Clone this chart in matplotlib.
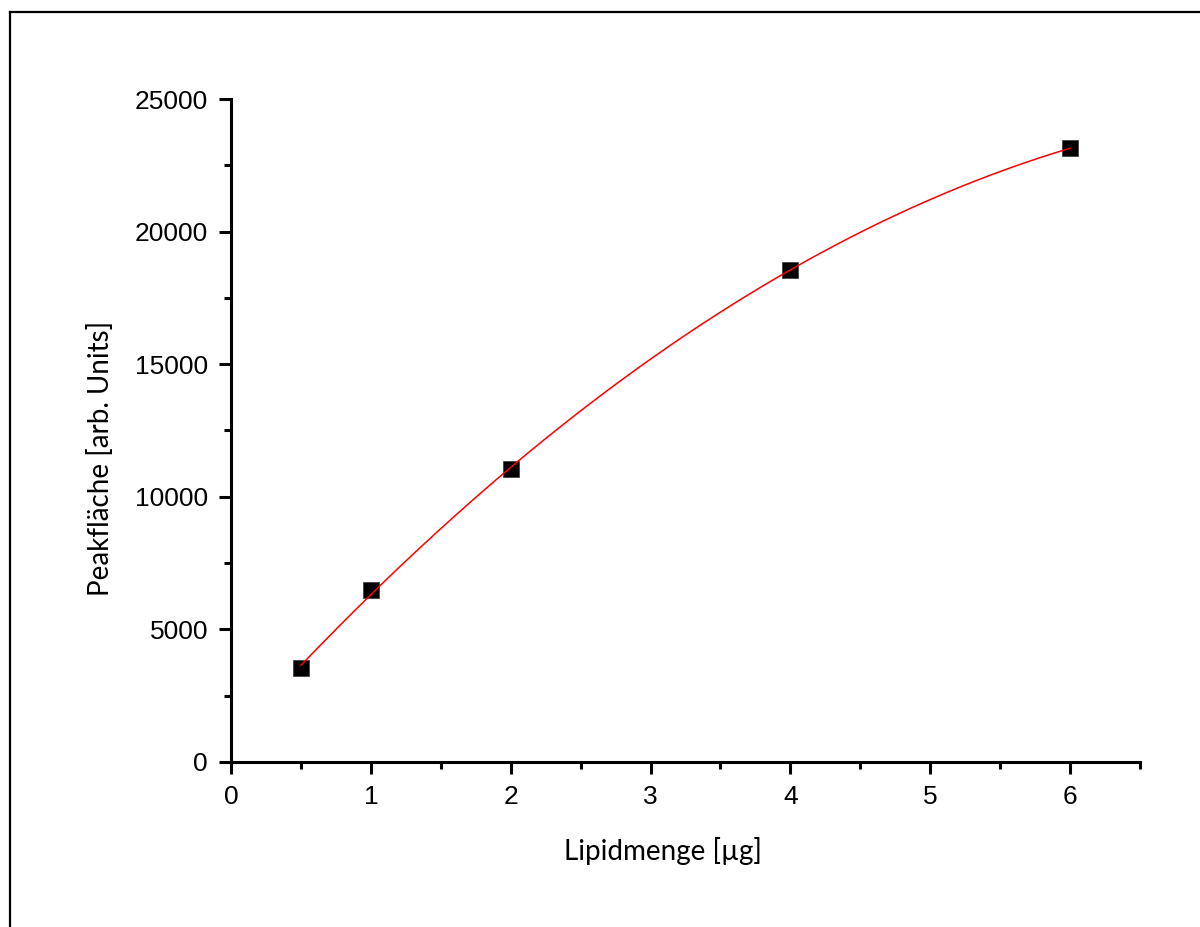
"""Kalibrierkurve: Peakfläche gegen Lipidmenge."""

import matplotlib

matplotlib.use("Agg")
import matplotlib.pyplot as plt
import numpy as np
from matplotlib.lines import Line2D
from matplotlib.ticker import MultipleLocator

lipid_ug = [0.5, 1.0, 2.0, 4.0, 6.0]
peak_area = [3540, 6480, 11050, 18550, 23150]

x_label = "Lipidmenge [µg]"
y_label = "Peakfläche [arb. Units]"


def main() -> None:
    fig = plt.figure(figsize=(12, 9.27), dpi=100)
    ax = fig.add_axes([0.1925, 0.178, 0.7575, 0.7152])

    # quadratic fit through the measured points
    coeffs = np.polyfit(lipid_ug, peak_area, 2)
    x_fit = np.linspace(min(lipid_ug), max(lipid_ug), 200)
    ax.plot(x_fit, np.polyval(coeffs, x_fit), color="red", lw=1.1, zorder=3)

    ax.plot(lipid_ug, peak_area, "s", color="black", markersize=11.5,
            markeredgecolor="#444444", markeredgewidth=0.6, zorder=2)

    ax.set_xlim(0, 6.5)
    ax.set_ylim(0, 25000)
    ax.xaxis.set_major_locator(MultipleLocator(1))
    ax.xaxis.set_minor_locator(MultipleLocator(0.5))
    ax.yaxis.set_major_locator(MultipleLocator(5000))
    ax.yaxis.set_minor_locator(MultipleLocator(2500))

    for side in ("top", "right"):
        ax.spines[side].set_visible(False)
    for side in ("left", "bottom"):
        ax.spines[side].set_linewidth(2.2)

    ax.tick_params(which="major", direction="out", length=8.5, width=2.2,
                   labelsize=19, pad=8)
    ax.tick_params(which="minor", direction="out", length=5, width=2.2)
    for lab in ax.get_xticklabels() + ax.get_yticklabels():
        lab.set_family("Liberation Sans")

    ax.set_xlabel(x_label, fontsize=20, family="Lato")
    ax.set_ylabel(y_label, fontsize=20, family="Lato")
    ax.xaxis.label.set_va("center")
    ax.yaxis.label.set_va("center")
    ax.xaxis.set_label_coords(0.475, -0.134)
    ax.yaxis.set_label_coords(-0.144, 0.4585)

    # frame around the figure (cut at right and bottom)
    fig.add_artist(Line2D([10 / 1200, 10 / 1200], [0, 1 - 12 / 927],
                          transform=fig.transFigure, color="black", lw=1.6))
    fig.add_artist(Line2D([10 / 1200, 1], [1 - 12 / 927, 1 - 12 / 927],
                          transform=fig.transFigure, color="black", lw=1.6))

    fig.savefig("out.png", dpi=100)
    plt.close(fig)


if __name__ == "__main__":
    main()
